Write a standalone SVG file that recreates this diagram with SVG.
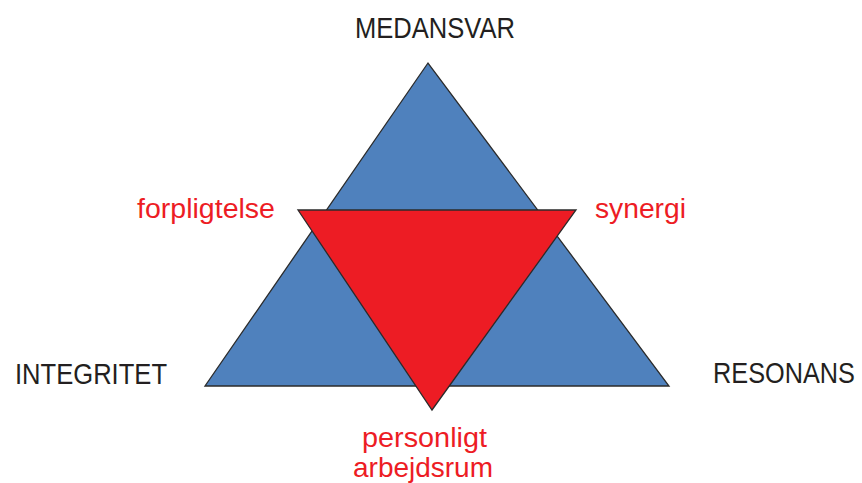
<svg xmlns="http://www.w3.org/2000/svg" width="862" height="483" viewBox="0 0 862 483">
<style>
.blk{font-family:"Liberation Sans",Arial,sans-serif;font-size:29px;fill:#231f20}
.red{font-family:"Liberation Sans",Arial,sans-serif;font-size:27.5px;fill:#ed1c24}
.tri{stroke:#2b2b2b;stroke-width:1.3;stroke-linejoin:miter}
</style>
<rect width="862" height="483" fill="#ffffff"/>
<g id="blue-triangle">
<polygon class="tri" points="428,63 205,386 669,386" fill="#4f81bd"/>
</g>
<g id="red-triangle">
<polygon class="tri" points="298,210 576,210 432,410" fill="#ed1c24"/>
</g>
<g id="connectors"></g>
<g id="label-medansvar"><text class="blk" x="355" y="38" textLength="160" lengthAdjust="spacingAndGlyphs">MEDANSVAR</text></g>
<g id="label-integritet"><text class="blk" x="15" y="384" textLength="152" lengthAdjust="spacingAndGlyphs">INTEGRITET</text></g>
<g id="label-resonans"><text class="blk" transform="translate(713,383) scale(1,1.16)" x="0" y="0" style="font-size:25px" textLength="142" lengthAdjust="spacingAndGlyphs">RESONANS</text></g>
<g id="label-forpligtelse"><text class="red" x="137" y="218" textLength="138" lengthAdjust="spacingAndGlyphs">forpligtelse</text></g>
<g id="label-synergi"><text class="red" x="595" y="218" textLength="91" lengthAdjust="spacingAndGlyphs">synergi</text></g>
<g id="label-personligt-arbejdsrum">
<text class="red" x="362" y="447" textLength="125" lengthAdjust="spacingAndGlyphs">personligt</text>
<text class="red" x="353" y="477" textLength="140" lengthAdjust="spacingAndGlyphs">arbejdsrum</text>
</g>
</svg>
